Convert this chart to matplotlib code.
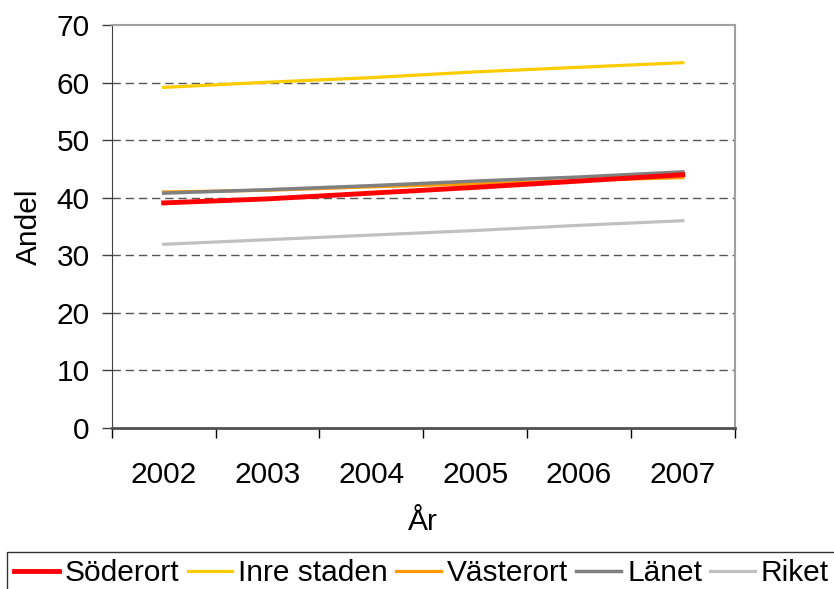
import numpy as np
import matplotlib
matplotlib.use('Agg')
import matplotlib.pyplot as plt

# DATA

years = ['2002', '2003', '2004', '2005', '2006', '2007']
soderort = [39.1, 39.8, 40.8, 41.8, 42.9, 44.0]
inre_staden = [59.2, 60.1, 60.9, 61.9, 62.7, 63.5]
vasterort = [41.0, 41.3, 41.9, 42.4, 43.0, 43.5]
lanet = [40.8, 41.4, 42.1, 42.9, 43.6, 44.5]
riket = [31.9, 32.7, 33.5, 34.3, 35.2, 36.0]

plt.rcParams['font.family'] = ['Liberation Sans', 'DejaVu Sans']
plt.rcParams['font.size'] = 21.5

fig = plt.figure(figsize=(8.34, 5.89), dpi=100)
ax = fig.add_axes([0.134, 0.274, 0.747, 0.683])

x = np.arange(len(years))

# PLOT THE SERIES

ax.plot(x, inre_staden, color='#FFCC00', lw=2.3, label='Inre staden', zorder=3)
ax.plot(x, riket, color='#C0C0C0', lw=2.3, label='Riket', zorder=3)
ax.plot(x, vasterort, color='#FF9900', lw=2.3, label='Västerort', zorder=3)
ax.plot(x, lanet, color='#808080', lw=2.5, label='Länet', zorder=4)
ax.plot(x, soderort, color='#FF0000', lw=3.5, label='Söderort', zorder=5)

# AXES

ax.set_xlim(-0.5, 5.5)
ax.set_ylim(0, 70)
ax.set_yticks(range(0, 71, 10))
ax.set_xticks(x)
ax.set_xticklabels(years)
ax.set_xticks(np.arange(-0.5, 5.6, 1), minor=True)
ax.tick_params(axis='x', which='major', length=0, pad=24)
ax.tick_params(axis='x', which='minor', length=7, width=1, color='black')
ax.tick_params(axis='y', length=7, width=1, pad=9, color='#404040')

for yv in range(10, 70, 10):
    ax.axhline(yv, color='#555555', lw=1, ls=(0, (6, 3.5)), zorder=1)

ax.spines['left'].set_color('#404040')
ax.spines['bottom'].set_color('#505050')
ax.spines['bottom'].set_linewidth(2)
ax.spines['top'].set_color('#A0A0A0')
ax.spines['right'].set_color('#A0A0A0')
ax.spines['top'].set_linewidth(1.5)
ax.spines['right'].set_linewidth(1.5)

ax.set_ylabel('Andel', labelpad=10)
ax.set_xlabel('År', labelpad=14)

# LEGEND

handles, labels = ax.get_legend_handles_labels()
order = ['Söderort', 'Inre staden', 'Västerort', 'Länet', 'Riket']
hmap = dict(zip(labels, handles))
leg = fig.legend([hmap[k] for k in order], order, ncol=5,
                 loc='lower left', bbox_to_anchor=(0.008, -0.01),
                 frameon=True, fancybox=False, edgecolor='black',
                 handlelength=1.5, handletextpad=0.2, columnspacing=0.27,
                 borderpad=0.25, borderaxespad=0)
leg.get_frame().set_linewidth(1)

fig.savefig('out.png', dpi=100)
